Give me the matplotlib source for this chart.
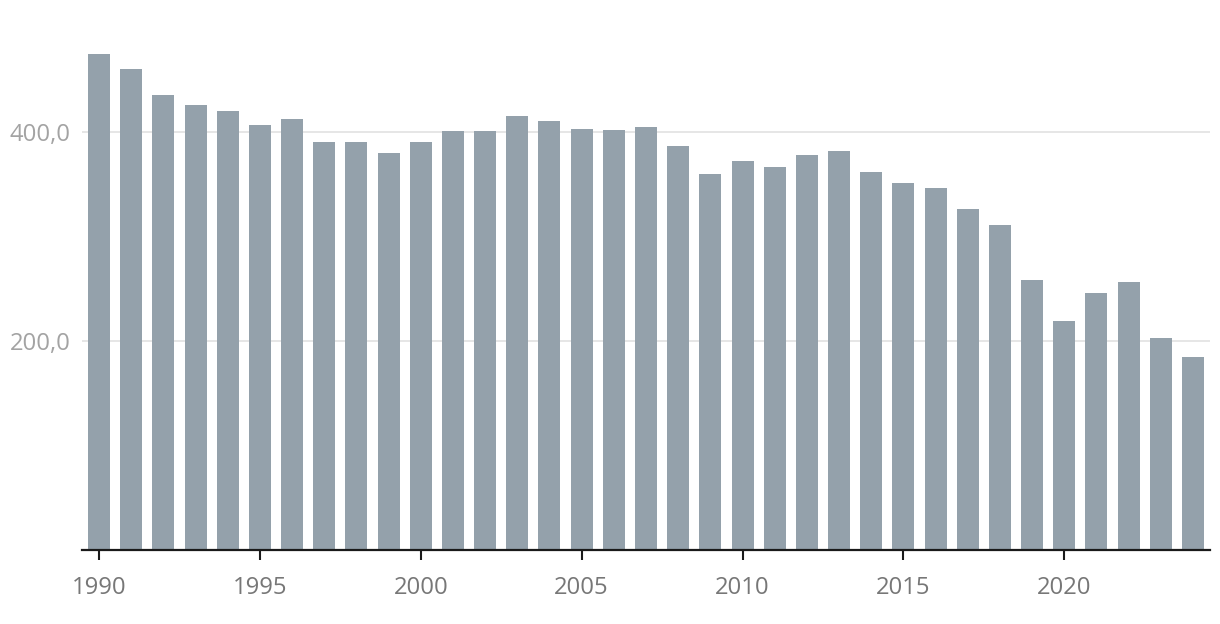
import matplotlib
matplotlib.use("Agg")
import matplotlib.pyplot as plt
from matplotlib.ticker import FuncFormatter

years = list(range(1990, 2025))
values = [474.8, 460.4, 435.5, 426.0, 420.2, 406.8, 412.5, 390.5, 390.5, 380.0,
          390.5, 401.3, 401.3, 415.4, 410.6, 403.0, 402.0, 404.9, 386.7, 359.9,
          372.3, 366.6, 378.0, 381.7, 361.8, 351.3, 346.5, 326.3, 311.0, 258.3,
          219.0, 245.9, 256.4, 202.9, 184.6]
y_ticks = [200, 400]
x_ticks = [1990, 1995, 2000, 2005, 2010, 2015, 2020]

plt.rcParams['font.family'] = ['Open Sans', 'DejaVu Sans']

fig = plt.figure(figsize=(12.2, 6.24), dpi=100)
ax = fig.add_axes([82 / 1220, 1 - 549.7 / 624, 1128 / 1220, (549.7 - 27.7) / 624])

ax.bar(years, values, width=0.684, color="#94a1ab", zorder=3)

ax.set_xlim(1989.47, 2024.53)
ax.set_ylim(0, 500)

ax.set_yticks(y_ticks)
ax.yaxis.set_major_formatter(FuncFormatter(lambda v, p: f"{v:.1f}".replace(".", ",")))
ax.grid(axis="y", color="#e6e6e6", linewidth=1.4, zorder=0)
ax.tick_params(axis="y", length=0, pad=8, labelsize=17.2, labelcolor="#a3a3a3")

ax.set_xticks(x_ticks)
ax.tick_params(axis="x", length=7.2, width=1.5, color="#1a1a1a", pad=11.5,
               labelsize=17.2, labelcolor="#777777")

for side in ["top", "right", "left"]:
    ax.spines[side].set_visible(False)
ax.spines["bottom"].set_linewidth(1.6)
ax.spines["bottom"].set_color("#1a1a1a")
ax.spines["bottom"].set_zorder(4)

fig.savefig("out.png", dpi=100)
